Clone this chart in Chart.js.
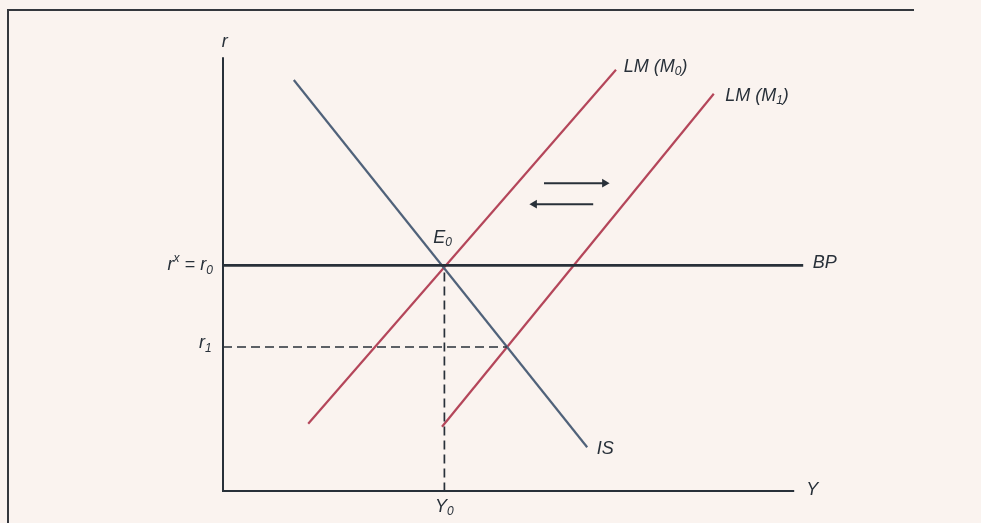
<!DOCTYPE html>
<html>
<head>
<meta charset="utf-8">
<script src="https://cdn.jsdelivr.net/npm/chart.js@4/dist/chart.umd.min.js"></script>
<style>
  html, body { margin: 0; padding: 0; background: #faf3ef; }
  #wrap { position: relative; width: 981px; height: 523px; overflow: hidden; }
  #frame {
    position: absolute; left: 7px; top: 9px; width: 905px; height: 530px;
    border-top: 2px solid #34373d; border-left: 2px solid #34373d;
  }
  canvas { position: absolute; left: 0; top: 0; }
</style>
</head>
<body>
<div id="wrap">
  <div id="frame"></div>
  <canvas id="islm" width="981" height="523"></canvas>
</div>
<script>
// curve end points (Y, r)
const isCurve  = [{ x: 11.8, y: 68.5 }, { x: 60.7, y: 7.3 }];
const lm0Curve = [{ x: 14.2, y: 11.2 }, { x: 65.5, y: 70.2 }];
const lm1Curve = [{ x: 36.5, y: 10.7 }, { x: 81.8, y: 66.2 }];

// equilibrium levels
const r0 = 37.6;
const r1 = 24;
const y0 = 36.9;

// axis extents and BP line end
const axisTop = 72.3;
const axisRight = 95.2;
const bpEnd = 96.7;
const r1DashEnd = 47.3;

// shift arrows
const arrowRight = [{ x: 53.5, y: 51.3 }, { x: 63.6, y: 51.3 }];
const arrowLeft  = [{ x: 61.7, y: 47.8 }, { x: 51.9, y: 47.8 }];

const ink = '#283039';
const red = '#b4465a';
const slate = '#50627a';

function seg(data, color, width, dash) {
    return {
        data: data,
        showLine: true,
        borderColor: color,
        borderWidth: width,
        borderDash: dash || [],
        pointRadius: 0,
        clip: false
    };
}

function arrow(data) {
    const rot = data[1].x > data[0].x ? 90 : -90;
    return {
        data: data,
        showLine: true,
        borderColor: ink,
        borderWidth: 2,
        pointStyle: 'triangle',
        pointRadius: [0, 5],
        pointRotation: [0, rot],
        backgroundColor: ink,
        pointBorderWidth: 0,
        clip: false
    };
}

// text labels with sub/superscripts
const labels = [
    { x: 0.3, y: 74.8, align: 'center', parts: [['r']] },
    { x: 97.2, y: 0.2, align: 'left', parts: [['Y']] },
    { x: 98.3, y: 38.0, align: 'left', parts: [['BP']] },
    { x: -1.7, y: r0, align: 'right', parts: [['r'], ['x', 'sup'], [' = r'], ['0', 'sub']] },
    { x: -1.9, y: r1 + 0.6, align: 'right', parts: [['r'], ['1', 'sub']] },
    { x: y0, y: -2.6, align: 'center', parts: [['Y'], ['0', 'sub']] },
    { x: 36.6, y: r0 + 4.6, align: 'center', parts: [['E'], ['0', 'sub']] },
    { x: 62.3, y: 7.0, align: 'left', parts: [['IS']] },
    { x: 66.8, y: 70.7, align: 'left', parts: [['LM (M'], ['0', 'sub'], [')']] },
    { x: 83.7, y: 65.9, align: 'left', parts: [['LM (M'], ['1', 'sub'], [')']] }
];

const labelPlugin = {
    id: 'curveLabels',
    afterDatasetsDraw(chart) {
        const ctx = chart.ctx;
        const sx = chart.scales.x, sy = chart.scales.y;
        const big = 'italic 18px "Liberation Sans", Arial, sans-serif';
        const small = 'italic 12px "Liberation Sans", Arial, sans-serif';
        ctx.save();
        ctx.fillStyle = ink;
        ctx.textBaseline = 'middle';
        ctx.textAlign = 'left';
        labels.forEach(l => {
            let w = 0;
            l.parts.forEach(p => {
                ctx.font = p[1] ? small : big;
                w += ctx.measureText(p[0]).width;
            });
            let px = sx.getPixelForValue(l.x);
            const py = sy.getPixelForValue(l.y);
            if (l.align === 'center') px -= w / 2;
            if (l.align === 'right') px -= w;
            l.parts.forEach(p => {
                ctx.font = p[1] ? small : big;
                let dy = 0;
                if (p[1] === 'sub') dy = 5;
                if (p[1] === 'sup') dy = -7;
                ctx.fillText(p[0], px, py + dy);
                px += ctx.measureText(p[0]).width;
            });
        });
        ctx.restore();
    }
};

const ctx = document.getElementById('islm').getContext('2d');
new Chart(ctx, {
    type: 'scatter',
    data: {
        datasets: [
            seg([{ x: 0, y: r1 }, { x: r1DashEnd, y: r1 }], ink, 1.7, [9, 5]),
            seg([{ x: y0, y: r0 - 1.2 }, { x: y0, y: 0 }], ink, 1.7, [9, 5]),
            seg([{ x: 0, y: r0 }, { x: bpEnd, y: r0 }], ink, 2.6),
            seg(isCurve, slate, 2.2),
            seg(lm0Curve, red, 2.2),
            seg(lm1Curve, red, 2.2),
            seg([{ x: 0, y: axisTop }, { x: 0, y: 0 }, { x: axisRight, y: 0 }], ink, 2),
            arrow(arrowRight),
            arrow(arrowLeft)
        ]
    },
    options: {
        responsive: false,
        animation: false,
        layout: { padding: { left: 223, right: 158, top: 41, bottom: 32 } },
        plugins: { legend: { display: false }, tooltip: { enabled: false } },
        scales: {
            x: { type: 'linear', min: 0, max: 100, display: false },
            y: { type: 'linear', min: 0, max: 75, display: false }
        }
    },
    plugins: [labelPlugin]
});
</script>
</body>
</html>
